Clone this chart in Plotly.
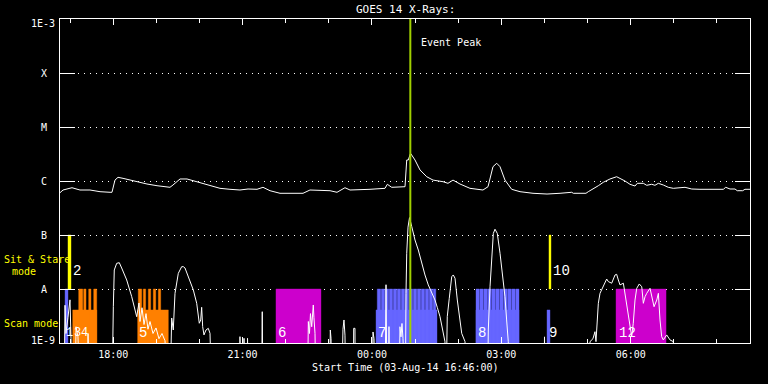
import math
import pandas as pd
import plotly.graph_objects as go

# ---------------- data ----------------
START = pd.Timestamp("2014-08-03 16:46:00")
END = pd.Timestamp("2014-08-04 08:46:00")
EVENT_PEAK_MIN = 487.4          # minutes after START

# GOES 1-8 A (long channel): elapsed minutes, flux (W/m^2)
long_min = [0, 4.2, 16.7, 27.8, 41.7, 55.7, 69.6, 72.3, 76.5, 80.7, 87.7, 101.6, 121.0, 135.0,
            153.0, 157.2, 167.0, 176.7, 190.6, 199.0, 222.6, 236.5, 250.4, 261.6, 274.1, 282.4,
            292.2, 306.1, 338.1, 347.8, 361.7, 375.7, 385.4, 396.5, 403.5, 417.4, 431.3, 452.2,
            455.4, 461.5, 480.0, 482.4, 484.6, 487.7, 493.9, 500.9, 510.2, 519.0, 532.9, 539.8,
            546.8, 556.5, 570.4, 588.5, 595.5, 602.4, 607.6, 612.2, 619.1, 628.4, 640.0, 658.1,
            677.6, 695.7, 711.9, 714.2, 731.8, 735.0, 742.0, 749.0, 755.9, 765.2, 774.5, 779.1,
            786.1, 793.0, 800.0, 803.2, 811.6, 816.3, 823.2, 827.8, 832.4, 839.4, 846.3, 853.3,
            862.6, 869.6, 878.9, 890.4, 922.9, 926.2, 932.2, 939.1, 942.3, 949.8, 953.0, 960.0]
long_flux = [6.07e-7, 6.81e-7, 7.51e-7, 6.81e-7, 6.81e-7, 6.34e-7, 6.18e-7, 6.18e-7, 1.04e-6, 1.17e-6,
             1.12e-6, 1.0e-6, 8.80e-7, 8.18e-7, 7.64e-7, 8.43e-7, 1.09e-6, 1.09e-6, 9.71e-7, 8.80e-7,
             7.32e-7, 7.02e-7, 6.81e-7, 7.11e-7, 7.02e-7, 7.64e-7, 6.61e-7, 5.92e-7, 5.92e-7, 6.81e-7,
             6.81e-7, 6.61e-7, 6.18e-7, 7.51e-7, 6.81e-7, 6.81e-7, 7.02e-7, 7.32e-7, 8.69e-7, 7.64e-7,
             7.84e-7, 2.45e-6, 2.45e-6, 3.26e-6, 2.45e-6, 1.60e-6, 1.20e-6, 1.04e-6, 9.71e-7, 9.06e-7,
             1.04e-6, 8.80e-7, 7.32e-7, 6.81e-7, 7.84e-7, 1.84e-6, 2.13e-6, 1.84e-6, 1.04e-6, 7.02e-7,
             6.34e-7, 5.92e-7, 5.74e-7, 5.92e-7, 6.18e-7, 5.92e-7, 5.92e-7, 6.34e-7, 7.11e-7, 8.18e-7,
             9.46e-7, 1.09e-6, 1.20e-6, 1.12e-6, 1.0e-6, 8.69e-7, 8.07e-7, 9.06e-7, 9.06e-7, 8.32e-7,
             8.69e-7, 8.32e-7, 9.06e-7, 8.43e-7, 7.64e-7, 7.32e-7, 7.51e-7, 7.64e-7, 7.11e-7, 7.02e-7,
             7.02e-7, 7.64e-7, 7.11e-7, 7.11e-7, 6.61e-7, 6.61e-7, 7.02e-7, 7.02e-7]

# GOES 0.5-4 A (short channel); 1e-10 = below the plotted floor
OFF = 1e-10
short_min = [0, 5.6, 7.0, 8.3, 11.1, 13.9, 15.3, 16.7, 21.0, 22.3, 25.0, 27.8, 37.6, 39.0, 41.7,
             72.3, 74.2, 75.5, 78.9, 82.5, 85.8, 92.8, 99.8, 104.3, 106.7, 109.9, 111.3, 114.1, 116.9,
             119.7, 122.4, 125.2, 129.4, 133.6, 137.7, 141.9, 146.1, 150.3,
             153.0, 155.4, 157.6, 160.0, 164.6, 169.3, 171.6, 173.9, 180.9, 185.5, 190.2, 192.4, 193.8,
             195.8, 197.1, 198.5, 200.3, 203.1, 206.3, 208.7, 211.1,
             249.7, 250.4, 251.4, 255.4, 256.0, 256.7, 260.2, 260.9, 262.0,
             280.3, 281.4, 282.4,
             344.3, 345.5, 347.1, 348.5, 350.2, 351.6, 352.4, 353.3, 354.8, 356.2,
             375.0, 376.1, 377.1, 378.0,
             391.6, 393.7, 395.1, 396.5, 397.6,
             408.1, 408.6, 410.4, 410.9,
             434.1, 435.5, 436.9, 438.3,
             452.2, 453.6, 455.0, 457.0, 457.7, 458.5,
             471.7, 473.0, 474.4, 475.8, 477.2, 478.6,
             480.4, 481.4, 482.4, 484.2, 486.3, 489.4, 493.9, 498.5, 503.2, 507.8, 512.4, 517.1, 521.7,
             524.9, 528.7, 532.4, 535.6, 537.0,
             538.8, 541.6, 545.0, 547.2, 549.6, 552.8, 556.5, 558.9, 563.5, 564.9,
             594.8, 595.9, 598.3, 600.6, 602.9, 605.2, 608.4, 612.2, 615.9, 619.1, 621.4, 623.7, 624.7,
             673.4, 674.1, 674.8,
             734.6, 737.4, 741.5, 744.3, 745.7, 747.5, 749.0, 751.3, 755.9, 760.6, 762.9, 767.6, 772.2,
             774.5, 776.8, 779.1, 783.8, 786.1, 788.5, 792.1, 795.4, 797.6, 800.0, 802.4, 806.0, 809.4,
             811.6, 814.0, 816.3, 820.9, 823.3, 826.5, 830.3, 832.5, 834.8, 837.1, 839.4, 844.1, 848.7,
             853.3, 855.7, 960.0]
short_flux = [OFF, OFF, 5.0e-9, 1.5e-9, 3.0e-9, 6.3e-9, 1.2e-9, OFF, OFF, 2.0e-9, 1.3e-9, OFF, OFF, 1.5e-9, OFF,
              OFF, 4.70e-9, 2.25e-8, 2.99e-8, 3.07e-8, 2.45e-8, 1.47e-8, 7.2e-9, 4.45e-9, 3.07e-9, 5.5e-9, 2.5e-9, 4.5e-9, 2.2e-9,
              3.5e-9, 1.8e-9, 2.5e-9, 1.5e-9, 1.9e-9, 1.2e-9, 1.5e-9, 1.1e-9, OFF,
              OFF, 2.9e-9, 1.74e-9, 8.32e-9, 1.95e-8, 2.59e-8, 2.59e-8, 2.45e-8, 1.37e-8, 9.58e-9, 5.43e-9, 3.07e-9, 2.32e-9,
              2.67e-9, 4.58e-9, 2.01e-9, 1.41e-9, 1.74e-9, 1.87e-9, 1.51e-9, OFF,
              OFF, 1.31e-9, OFF, OFF, 1.22e-9, OFF, OFF, 1.22e-9, OFF,
              OFF, 3.80e-9, OFF,
              OFF, 2.5e-9, 1.5e-9, 3.5e-9, 2.0e-9, 4.5e-9, 5.06e-9, 3.0e-9, 1.51e-9, OFF,
              OFF, 1.74e-9, 1.2e-9, OFF,
              OFF, 1.8e-9, 2.67e-9, 1.4e-9, OFF,
              OFF, 1.87e-9, 1.87e-9, OFF,
              OFF, 1.6e-9, 1.2e-9, OFF,
              OFF, 1.2e-8, OFF, OFF, 2.01e-9, OFF,
              OFF, 2.0e-9, 1.3e-9, 2.3e-9, 1.2e-9, OFF,
              OFF, 8.3e-9, 4.58e-8, 1.4e-7, 2.1e-7, 1.43e-7, 8.08e-8, 5.27e-8, 2.99e-8, 1.82e-8, 1.19e-8, 8.91e-9, 6.25e-9,
              4.58e-9, 3.07e-9, 1.74e-9, 1.06e-9, OFF,
              3.07e-9, 6.73e-9, 1.69e-8, 1.82e-8, 1.58e-8, 6.25e-9, 2.67e-9, 1.51e-9, 1.06e-9, OFF,
              OFF, 1.74e-9, 1.10e-8, 4.58e-8, 1.07e-7, 1.28e-7, 1.07e-7, 4.58e-8, 1.69e-8, 7.2e-9, 2.67e-9, 1.06e-9, OFF,
              OFF, 1.3e-9, OFF,
              OFF, 1.06e-9, 1.2e-9, 1.62e-9, 1.06e-9, 2.32e-9, 5.43e-9, 8.32e-9, 1.1e-8, 1.53e-8, 1.37e-8, 1.28e-8, 1.82e-8,
              1.87e-8, 1.47e-8, 1.19e-8, 1.28e-8, 8.32e-9, 4.7e-9, 2.32e-9, 1.31e-9, 2.32e-9, 6.25e-9, 1.03e-8, 1.24e-8, 1.10e-8,
              5.43e-9, 7.2e-9, 8.32e-9, 1.03e-8, 7.2e-9, 4.7e-9, 6.25e-9, 8.32e-9, 2.67e-9, 1.31e-9, 1.14e-9, 1.41e-9, 1.14e-9,
              1.06e-9, OFF, OFF]
assert len(long_min) == len(long_flux)
assert len(short_min) == len(short_flux)

# IRIS observation blocks: (start, end) in minutes after START
SCAN_FLOOR, SCAN_TOP, SCAN_PARTIAL = 1e-9, 1e-8, 4.1e-9
SS_FLOOR, SS_TOP = 1e-8, 1e-7
orange_base = [(17.7, 51.1), (108.1, 150.7)]
orange_tall = [(26.0, 31.6), (33.0, 36.2), (39.9, 43.1), (46.9, 51.1),
               (108.9, 113.7), (115.9, 119.2), (122.9, 126.2), (129.8, 133.2), (136.8, 140.1)]
blue_base = [(439.7, 524.5), (578.8, 638.6), (677.6, 681.7)]
blue_tall = [(7.0, 11.1),
             (441.4, 446.2), (447.0, 451.8), (452.5, 457.3), (458.1, 462.9), (463.7, 468.5),
             (469.2, 474.0), (474.8, 479.6), (480.3, 485.1), (485.9, 490.7), (491.5, 496.3),
             (497.1, 501.9), (502.6, 507.4), (508.2, 513.0), (513.7, 518.5), (519.3, 522.9),
             (578.8, 583.3), (584.1, 588.9), (589.7, 594.5), (595.2, 600.0), (600.8, 605.6),
             (606.3, 611.1), (611.9, 616.7), (617.5, 622.3), (623.0, 627.8), (628.6, 633.4),
             (634.2, 638.6)]
magenta_full = [(300.5, 363.1), (773.6, 843.2)]
yellow_ss = [(11.1, 15.3), (680.3, 683.1)]

# observation number labels
scan_labels = ["1", "3", "4", "5", "6", "7", "8", "9", "12"]
scan_label_min = [6.9, 17.4, 28.2, 108.5, 301.9, 441.0, 580.2, 678.9, 776.3]
scan_label_size = [12, 12, 12, 14, 14, 14, 14, 14, 14]
ss_labels = ["2", "10"]
ss_label_min = [16.0, 684.5]
SCAN_LABEL_LEVEL, SS_LABEL_LEVEL = 1.53e-9, 2.15e-8

y_tick_vals = [1e-9, 1e-8, 1e-7, 1e-6, 1e-5, 1e-4, 1e-3]
y_tick_text = ["1E-9", "A", "B", "C", "M", "X", "1E-3"]

# ---------------- helpers ----------------
def ts(m):
    return (START + pd.Timedelta(minutes=float(m))).strftime("%Y-%m-%d %H:%M:%S.%f")

def rect_poly(blocks, lo, hi):
    xs, ys = [], []
    for a, b in blocks:
        xs += [ts(a), ts(a), ts(b), ts(b), ts(a), None]
        ys += [lo, hi, hi, lo, lo, None]
    return xs, ys

FONT = "DejaVu Sans Mono"
NUMFONT = "Liberation Mono"
fig = go.Figure()

def add_blocks(blocks, lo, hi, color):
    xs, ys = rect_poly(blocks, lo, hi)
    fig.add_trace(go.Scatter(x=xs, y=ys, mode="lines", fill="toself", fillcolor=color,
                             line=dict(width=0.4, color=color), hoverinfo="skip"))

add_blocks(orange_base, SCAN_FLOOR, SCAN_PARTIAL, "#ff8000")
add_blocks(orange_tall, SCAN_FLOOR, SCAN_TOP, "#ff8000")
add_blocks(blue_base, SCAN_FLOOR, SCAN_PARTIAL, "#6666ff")
add_blocks(blue_tall, SCAN_FLOOR, SCAN_TOP, "#6666ff")
add_blocks(magenta_full, SCAN_FLOOR, SCAN_TOP, "#cc00cc")
add_blocks(yellow_ss, SS_FLOOR, SS_TOP, "#ffff00")

fig.add_trace(go.Scatter(x=[ts(m) for m in long_min], y=long_flux, mode="lines",
                         line=dict(color="white", width=1), hoverinfo="skip"))
fig.add_trace(go.Scatter(x=[ts(m) for m in short_min], y=short_flux, mode="lines",
                         line=dict(color="white", width=1), hoverinfo="skip"))
fig.add_trace(go.Scatter(x=[ts(EVENT_PEAK_MIN)] * 2, y=[1e-9, 1e-3], mode="lines",
                         line=dict(color="#a0d000", width=2), hoverinfo="skip"))

ann = []
# y tick labels
for v, txt in zip(y_tick_vals, y_tick_text):
    e = math.log10(v)
    if len(txt) > 1:
        ann.append(dict(x=-0.004, xref="paper", y=e, yref="y", text=txt, showarrow=False,
                        xanchor="right", yanchor="middle", yshift=(-4 if e == -3 else 3),
                        font=dict(family=FONT, size=10, color="white")))
    else:
        ann.append(dict(x=-0.023, xref="paper", y=e, yref="y", text=txt, showarrow=False,
                        xanchor="center", yanchor="middle",
                        font=dict(family=FONT, size=10, color="white")))
# mode labels, titles
ann += [
    dict(x=-0.084, xref="paper", y=0.259, yref="paper", text="Sit & Stare", showarrow=False,
         xanchor="left", yanchor="middle", font=dict(family=FONT, size=10, color="#ffff00")),
    dict(x=-0.052, xref="paper", y=0.222, yref="paper", text="mode", showarrow=False,
         xanchor="center", yanchor="middle", font=dict(family=FONT, size=10, color="#ffff00")),
    dict(x=-0.084, xref="paper", y=0.059, yref="paper", text="Scan mode", showarrow=False,
         xanchor="left", yanchor="middle", font=dict(family=FONT, size=10, color="#ffff00")),
    dict(x=0.5, xref="paper", y=1.028, yref="paper", text="GOES 14 X-Rays:", showarrow=False,
         xanchor="center", yanchor="middle", font=dict(family=FONT, size=11, color="white")),
    dict(x=0.5, xref="paper", y=-0.077, yref="paper", text="Start Time (03-Aug-14 16:46:00)",
         showarrow=False, xanchor="center", yanchor="middle",
         font=dict(family=FONT, size=10, color="white")),
    dict(x=ts(EVENT_PEAK_MIN), xref="x", y=0.926, yref="paper", text="Event Peak", showarrow=False,
         xanchor="left", yanchor="middle", xshift=9, font=dict(family=FONT, size=10, color="white")),
]
for lab, m, sz in zip(scan_labels, scan_label_min, scan_label_size):
    ann.append(dict(x=ts(m), xref="x", y=math.log10(SCAN_LABEL_LEVEL), yref="y", text=lab,
                    showarrow=False, xanchor="left", yanchor="middle", borderpad=0,
                    font=dict(family=NUMFONT, size=sz, color="white")))
for lab, m in zip(ss_labels, ss_label_min):
    ann.append(dict(x=ts(m), xref="x", y=math.log10(SS_LABEL_LEVEL), yref="y", text=lab,
                    showarrow=False, xanchor="left", yanchor="middle", borderpad=0,
                    font=dict(family=NUMFONT, size=14, color="white")))

fig.update_layout(
    width=768, height=384, margin=dict(l=60, r=18, t=19, b=41),
    paper_bgcolor="black", plot_bgcolor="black", showlegend=False,
    font=dict(family=FONT, size=10, color="white"),
    annotations=ann,
    xaxis=dict(type="date", range=[ts(0), END.strftime("%Y-%m-%d %H:%M:%S")],
               tick0="2014-08-03 18:00:00", dtick=3 * 3600 * 1000, tickformat="%H:%M",
               ticks="inside", ticklen=6, tickwidth=1, tickcolor="white",
               showline=True, linecolor="white", linewidth=1, mirror="allticks",
               showgrid=False, zeroline=False, ticklabelstandoff=2,
               tickfont=dict(family=FONT, size=10, color="white"),
               minor=dict(tick0="2014-08-03 17:00:00", dtick=3600 * 1000, ticks="inside",
                          ticklen=4, tickcolor="white", showgrid=False)),
    yaxis=dict(type="log", range=[-9, -3], tickvals=y_tick_vals, showticklabels=False,
               ticks="inside", ticklen=15, tickwidth=1, tickcolor="white",
               showline=True, linecolor="white", linewidth=1, mirror="ticks",
               showgrid=True, gridcolor="white", gridwidth=1, griddash="1px,5px",
               zeroline=False),
)

fig.write_html("out.html", config={"displayModeBar": False, "staticPlot": True},
               post_script="document.body.style.margin='0';document.body.style.background='black';")
